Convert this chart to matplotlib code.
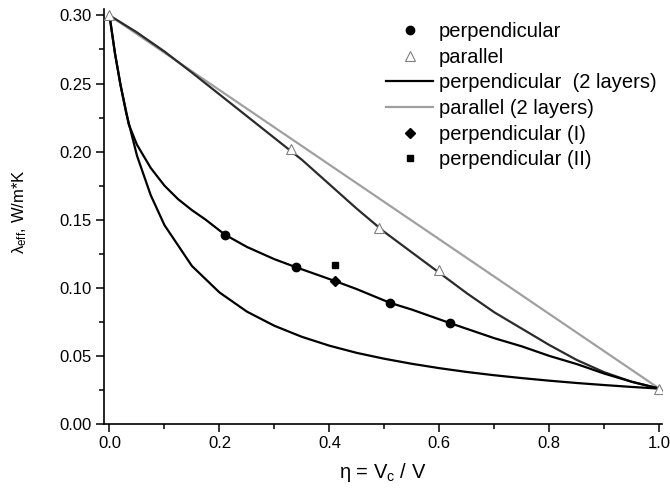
import matplotlib
matplotlib.use("Agg")
import matplotlib.pyplot as plt
from matplotlib.lines import Line2D
from matplotlib.ticker import MultipleLocator, FormatStrFormatter

plt.rcParams['font.family'] = ['Liberation Sans', 'DejaVu Sans']
plt.rcParams['mathtext.fontset'] = 'custom'
plt.rcParams['mathtext.rm'] = 'Liberation Sans'
plt.rcParams['mathtext.it'] = 'Liberation Sans:italic'

# measured points
eta_perp = [0.21, 0.34, 0.51, 0.62]
lam_perp = [0.139, 0.115, 0.089, 0.074]
eta_par = [0.0, 0.33, 0.49, 0.60, 1.0]
lam_par = [0.300, 0.202, 0.144, 0.113, 0.026]
eta_perp1 = [0.41]
lam_perp1 = [0.105]
eta_perp2 = [0.41]
lam_perp2 = [0.117]

# 2-layer model curves
eta_ser = [0.0, 0.01, 0.02, 0.03, 0.04, 0.05, 0.075, 0.10, 0.15, 0.20, 0.25, 0.30,
           0.35, 0.40, 0.45, 0.50, 0.55, 0.60, 0.65, 0.70, 0.75, 0.80, 0.85,
           0.90, 0.95, 1.0]
lam_ser = [0.300, 0.272, 0.249, 0.229, 0.213, 0.197, 0.168, 0.146, 0.116, 0.0966,
           0.0825, 0.0721, 0.064, 0.0575, 0.0522, 0.0479, 0.0442, 0.041, 0.0382,
           0.0358, 0.0337, 0.0318, 0.0301, 0.0286, 0.0272, 0.026]
eta_lin = [0.0, 1.0]
lam_lin = [0.300, 0.026]

# fitted curves through the measurements
eta_fit_perp = [0.0, 0.01, 0.02, 0.03, 0.035, 0.05, 0.075, 0.10, 0.125, 0.15, 0.175,
                0.21, 0.25, 0.30, 0.34, 0.41, 0.45, 0.51, 0.55, 0.62, 0.70, 0.75,
                0.80, 0.85, 0.90, 0.95, 1.0]
lam_fit_perp = [0.300, 0.272, 0.249, 0.230, 0.220, 0.205, 0.188, 0.175, 0.165, 0.157,
                0.150, 0.139, 0.130, 0.121, 0.115, 0.105, 0.099, 0.089, 0.084, 0.074,
                0.063, 0.057, 0.050, 0.044, 0.037, 0.031, 0.026]
eta_fit_par = [0.0, 0.05, 0.10, 0.15, 0.20, 0.25, 0.30, 0.35, 0.40, 0.45, 0.50, 0.55,
               0.60, 0.65, 0.70, 0.75, 0.80, 0.85, 0.90, 0.95, 1.0]
lam_fit_par = [0.300, 0.2875, 0.2735, 0.258, 0.242, 0.226, 0.210, 0.194, 0.176, 0.158,
               0.141, 0.126, 0.111, 0.096, 0.082, 0.070, 0.058, 0.047, 0.038, 0.031,
               0.026]

fig = plt.figure(figsize=(6.7, 4.95), dpi=100)
ax = fig.add_axes([104 / 670, 71 / 495, 558 / 670, 415.4 / 495])

ax.plot(eta_lin, lam_lin, color='#a0a0a0', lw=1.6, zorder=2)
ax.plot(eta_fit_par, lam_fit_par, color='#2b2b2b', lw=1.6, zorder=3)
ax.plot(eta_ser, lam_ser, color='black', lw=1.6, zorder=3)
ax.plot(eta_fit_perp, lam_fit_perp, color='black', lw=1.6, zorder=3)

ax.plot(eta_perp, lam_perp, 'o', color='black', ms=6, zorder=5)
ax.plot(eta_par, lam_par, '^', mfc='white', mec='#808080', mew=0.8, ms=7, zorder=5)
ax.plot(eta_perp1, lam_perp1, 'D', color='black', ms=5.5, zorder=5)
ax.plot(eta_perp2, lam_perp2, 's', color='black', ms=5, zorder=5)

ax.set_xlim(-0.01, 1.005)
ax.set_ylim(0.0, 0.305)
ax.xaxis.set_major_locator(MultipleLocator(0.2))
ax.xaxis.set_minor_locator(MultipleLocator(0.1))
ax.yaxis.set_major_locator(MultipleLocator(0.05))
ax.yaxis.set_minor_locator(MultipleLocator(0.025))
ax.xaxis.set_major_formatter(FormatStrFormatter('%.1f'))
ax.yaxis.set_major_formatter(FormatStrFormatter('%.2f'))
ax.spines['top'].set_visible(False)
ax.spines['right'].set_visible(False)
ax.spines['left'].set_linewidth(1.2)
ax.spines['bottom'].set_linewidth(1.2)
ax.tick_params(which='major', direction='out', length=6, width=1.1, labelsize=12, pad=3)
ax.tick_params(which='minor', direction='out', length=3.5, width=1.1)

ax.set_xlabel(r'η = V$_\mathrm{c}$ / V', fontsize=14.5)
ax.xaxis.set_label_coords(0.5, -0.09)
ax.set_ylabel(r'λ$_\mathrm{eff}$, W/m*K', fontsize=12)
ax.yaxis.set_label_coords(-0.135, 0.511)

handles = [
    Line2D([], [], ls='none', marker='o', color='black', ms=6),
    Line2D([], [], ls='none', marker='^', mfc='white', mec='#808080', mew=0.8, ms=7),
    Line2D([], [], color='black', lw=1.6),
    Line2D([], [], color='#a0a0a0', lw=1.6),
    Line2D([], [], ls='none', marker='D', color='black', ms=5.5),
    Line2D([], [], ls='none', marker='s', color='black', ms=5),
]
labels = ['perpendicular', 'parallel', 'perpendicular  (2 layers)',
          'parallel (2 layers)', 'perpendicular (I)', 'perpendicular (II)']
fig.legend(handles, labels, loc='upper left', bbox_to_anchor=(386 / 670, 1 - 22 / 495),
           frameon=False, fontsize=14.5, borderpad=0, borderaxespad=0,
           handlelength=2.34, handletextpad=0.3, labelspacing=0.33)

fig.savefig('out.png', dpi=100)
